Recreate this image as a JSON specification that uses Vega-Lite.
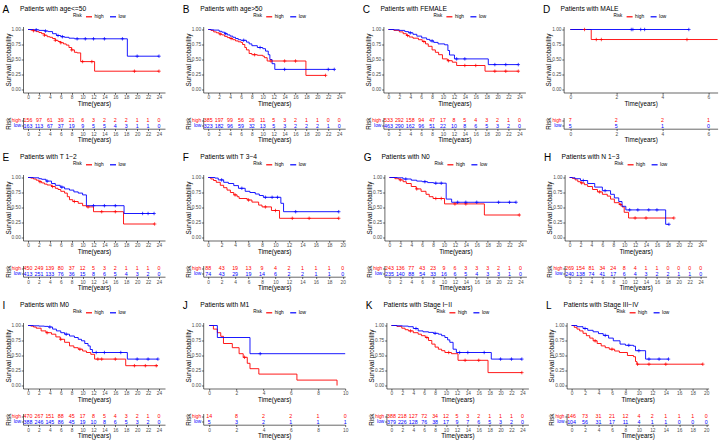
{
"$schema": "https://vega.github.io/schema/vega-lite/v6.json",
"padding": {"left": 2, "top": 4.5, "right": 0, "bottom": 0},
"background": "white",
"config": {
 "font": "Liberation Sans",
 "view": {"stroke": null},
 "axis": {"grid": false, "domainColor": "#000000", "domainWidth": 0.6, "tickColor": "#000000", "tickWidth": 0.6, "tickSize": 1.8, "labelFontSize": 4.8, "labelColor": "#4D4D4D", "labelPadding": 0.5, "labelFlush": false, "labelOverlap": false, "titleFontSize": 6.3, "titleFontWeight": "normal", "titleColor": "#000000", "titlePadding": 1, "labelFont": "Liberation Sans", "titleFont": "Liberation Sans"},
 "axisY": {"labelPadding": 0.8, "titlePadding": 0},
 "legend": {"labelFontSize": 4.8, "titleFontSize": 4.5, "titleFontWeight": "normal", "titleBaseline": "middle", "titleAnchor": "middle", "symbolType": "stroke", "symbolSize": 36, "symbolStrokeWidth": 1.2, "columnPadding": 3, "labelOffset": 1.5, "titlePadding": 3, "labelFont": "Liberation Sans", "titleFont": "Liberation Sans"},
 "title": {"font": "Liberation Sans", "fontWeight": "normal", "color": "#000000"},
 "text": {"font": "Liberation Sans"}
},
"datasets": {
 "pv": [{"p":"A","label":"p=0.003"},{"p":"B","label":"p=0.023"},{"p":"C","label":"p<0.001"},{"p":"D","label":"p=0.361"},{"p":"E","label":"p=0.003"},{"p":"F","label":"p=0.022"},{"p":"G","label":"p=0.002"},{"p":"H","label":"p=0.052"},{"p":"I","label":"p=0.003"},{"p":"J","label":"p=0.139"},{"p":"K","label":"p=0.003"},{"p":"L","label":"p=0.052"}],
 "km": [
  {"p":"A","r":"high","t":0,"s":1},{"p":"A","r":"high","t":0.5,"s":0.99},{"p":"A","r":"high","t":1,"s":0.98},{"p":"A","r":"high","t":1.5,"s":0.965},{"p":"A","r":"high","t":2,"s":0.95},{"p":"A","r":"high","t":2.5,"s":0.93},{"p":"A","r":"high","t":3,"s":0.905},{"p":"A","r":"high","t":3.5,"s":0.88},{"p":"A","r":"high","t":4,"s":0.87},{"p":"A","r":"high","t":4.5,"s":0.85},{"p":"A","r":"high","t":5,"s":0.82},{"p":"A","r":"high","t":5.5,"s":0.8},{"p":"A","r":"high","t":6,"s":0.78},{"p":"A","r":"high","t":6.5,"s":0.76},{"p":"A","r":"high","t":7,"s":0.74},{"p":"A","r":"high","t":7.5,"s":0.7},{"p":"A","r":"high","t":8,"s":0.66},{"p":"A","r":"high","t":8.5,"s":0.62},{"p":"A","r":"high","t":9,"s":0.61},{"p":"A","r":"high","t":9.65,"s":0.465},{"p":"A","r":"high","t":12.2,"s":0.305},{"p":"A","r":"high","t":24,"s":0.305},
  {"p":"A","r":"low","t":0,"s":1},{"p":"A","r":"low","t":1,"s":0.995},{"p":"A","r":"low","t":2,"s":0.985},{"p":"A","r":"low","t":3,"s":0.975},{"p":"A","r":"low","t":3.7,"s":0.965},{"p":"A","r":"low","t":4.5,"s":0.93},{"p":"A","r":"low","t":5.2,"s":0.9},{"p":"A","r":"low","t":6,"s":0.88},{"p":"A","r":"low","t":6.7,"s":0.87},{"p":"A","r":"low","t":7.5,"s":0.855},{"p":"A","r":"low","t":8.5,"s":0.845},{"p":"A","r":"low","t":18.2,"s":0.555},{"p":"A","r":"low","t":24,"s":0.555},
  {"p":"B","r":"high","t":0,"s":1},{"p":"B","r":"high","t":0.5,"s":0.985},{"p":"B","r":"high","t":1,"s":0.96},{"p":"B","r":"high","t":1.5,"s":0.945},{"p":"B","r":"high","t":2,"s":0.925},{"p":"B","r":"high","t":2.5,"s":0.91},{"p":"B","r":"high","t":3,"s":0.885},{"p":"B","r":"high","t":3.5,"s":0.865},{"p":"B","r":"high","t":4,"s":0.85},{"p":"B","r":"high","t":4.5,"s":0.83},{"p":"B","r":"high","t":5,"s":0.81},{"p":"B","r":"high","t":5.5,"s":0.795},{"p":"B","r":"high","t":6,"s":0.785},{"p":"B","r":"high","t":6.3,"s":0.75},{"p":"B","r":"high","t":6.7,"s":0.7},{"p":"B","r":"high","t":7,"s":0.66},{"p":"B","r":"high","t":7.5,"s":0.6},{"p":"B","r":"high","t":8,"s":0.58},{"p":"B","r":"high","t":9,"s":0.57},{"p":"B","r":"high","t":10,"s":0.555},{"p":"B","r":"high","t":10.3,"s":0.53},{"p":"B","r":"high","t":10.8,"s":0.475},{"p":"B","r":"high","t":17.9,"s":0.235},{"p":"B","r":"high","t":21.5,"s":0.235},
  {"p":"B","r":"low","t":0,"s":1},{"p":"B","r":"low","t":0.5,"s":0.995},{"p":"B","r":"low","t":1,"s":0.99},{"p":"B","r":"low","t":2,"s":0.97},{"p":"B","r":"low","t":2.5,"s":0.955},{"p":"B","r":"low","t":3,"s":0.93},{"p":"B","r":"low","t":3.5,"s":0.91},{"p":"B","r":"low","t":4,"s":0.89},{"p":"B","r":"low","t":4.5,"s":0.87},{"p":"B","r":"low","t":5,"s":0.85},{"p":"B","r":"low","t":5.5,"s":0.83},{"p":"B","r":"low","t":6,"s":0.82},{"p":"B","r":"low","t":7,"s":0.79},{"p":"B","r":"low","t":7.5,"s":0.76},{"p":"B","r":"low","t":8,"s":0.73},{"p":"B","r":"low","t":9,"s":0.7},{"p":"B","r":"low","t":10,"s":0.68},{"p":"B","r":"low","t":10.5,"s":0.64},{"p":"B","r":"low","t":11,"s":0.58},{"p":"B","r":"low","t":11.3,"s":0.5},{"p":"B","r":"low","t":11.7,"s":0.43},{"p":"B","r":"low","t":12.2,"s":0.335},{"p":"B","r":"low","t":23.1,"s":0.335},
  {"p":"C","r":"high","t":0,"s":1},{"p":"C","r":"high","t":1,"s":0.985},{"p":"C","r":"high","t":2,"s":0.96},{"p":"C","r":"high","t":2.7,"s":0.93},{"p":"C","r":"high","t":3.3,"s":0.9},{"p":"C","r":"high","t":3.8,"s":0.875},{"p":"C","r":"high","t":4.5,"s":0.855},{"p":"C","r":"high","t":5.5,"s":0.83},{"p":"C","r":"high","t":6.2,"s":0.8},{"p":"C","r":"high","t":6.8,"s":0.76},{"p":"C","r":"high","t":7.3,"s":0.72},{"p":"C","r":"high","t":8,"s":0.66},{"p":"C","r":"high","t":8.6,"s":0.62},{"p":"C","r":"high","t":9.2,"s":0.58},{"p":"C","r":"high","t":9.9,"s":0.51},{"p":"C","r":"high","t":10.8,"s":0.48},{"p":"C","r":"high","t":11.7,"s":0.455},{"p":"C","r":"high","t":12.5,"s":0.4},{"p":"C","r":"high","t":17.7,"s":0.305},{"p":"C","r":"high","t":23.8,"s":0.305},
  {"p":"C","r":"low","t":0,"s":1},{"p":"C","r":"low","t":1,"s":0.995},{"p":"C","r":"low","t":2,"s":0.985},{"p":"C","r":"low","t":3,"s":0.965},{"p":"C","r":"low","t":3.7,"s":0.945},{"p":"C","r":"low","t":4.5,"s":0.92},{"p":"C","r":"low","t":5.2,"s":0.89},{"p":"C","r":"low","t":6.1,"s":0.86},{"p":"C","r":"low","t":7,"s":0.835},{"p":"C","r":"low","t":7.6,"s":0.81},{"p":"C","r":"low","t":8.3,"s":0.785},{"p":"C","r":"low","t":9.1,"s":0.76},{"p":"C","r":"low","t":10.3,"s":0.745},{"p":"C","r":"low","t":10.9,"s":0.65},{"p":"C","r":"low","t":11.2,"s":0.575},{"p":"C","r":"low","t":12.1,"s":0.51},{"p":"C","r":"low","t":18.3,"s":0.415},{"p":"C","r":"low","t":23.8,"s":0.415},
  {"p":"D","r":"high","t":0,"s":1},{"p":"D","r":"high","t":0.91,"s":0.833},{"p":"D","r":"high","t":6.4,"s":0.833},
  {"p":"D","r":"low","t":0,"s":1},{"p":"D","r":"low","t":5.15,"s":1},
  {"p":"E","r":"high","t":0,"s":1},{"p":"E","r":"high","t":0.5,"s":0.99},{"p":"E","r":"high","t":1,"s":0.975},{"p":"E","r":"high","t":1.5,"s":0.955},{"p":"E","r":"high","t":2,"s":0.93},{"p":"E","r":"high","t":2.5,"s":0.91},{"p":"E","r":"high","t":3,"s":0.89},{"p":"E","r":"high","t":3.5,"s":0.875},{"p":"E","r":"high","t":4.3,"s":0.85},{"p":"E","r":"high","t":5,"s":0.82},{"p":"E","r":"high","t":5.5,"s":0.8},{"p":"E","r":"high","t":6,"s":0.77},{"p":"E","r":"high","t":6.7,"s":0.74},{"p":"E","r":"high","t":7.2,"s":0.68},{"p":"E","r":"high","t":7.6,"s":0.63},{"p":"E","r":"high","t":8.2,"s":0.6},{"p":"E","r":"high","t":9.2,"s":0.57},{"p":"E","r":"high","t":10,"s":0.53},{"p":"E","r":"high","t":10.7,"s":0.51},{"p":"E","r":"high","t":12,"s":0.43},{"p":"E","r":"high","t":17.5,"s":0.225},{"p":"E","r":"high","t":23.2,"s":0.225},
  {"p":"E","r":"low","t":0,"s":1},{"p":"E","r":"low","t":1,"s":0.995},{"p":"E","r":"low","t":2,"s":0.98},{"p":"E","r":"low","t":2.5,"s":0.97},{"p":"E","r":"low","t":3.3,"s":0.94},{"p":"E","r":"low","t":4.3,"s":0.9},{"p":"E","r":"low","t":5,"s":0.87},{"p":"E","r":"low","t":5.9,"s":0.84},{"p":"E","r":"low","t":6.7,"s":0.81},{"p":"E","r":"low","t":7.6,"s":0.79},{"p":"E","r":"low","t":8.4,"s":0.76},{"p":"E","r":"low","t":9.2,"s":0.74},{"p":"E","r":"low","t":10,"s":0.71},{"p":"E","r":"low","t":10.7,"s":0.53},{"p":"E","r":"low","t":17.6,"s":0.4},{"p":"E","r":"low","t":23.1,"s":0.4},
  {"p":"F","r":"high","t":0,"s":1},{"p":"F","r":"high","t":0.4,"s":0.975},{"p":"F","r":"high","t":0.8,"s":0.95},{"p":"F","r":"high","t":1.2,"s":0.92},{"p":"F","r":"high","t":1.8,"s":0.87},{"p":"F","r":"high","t":2.3,"s":0.83},{"p":"F","r":"high","t":2.8,"s":0.79},{"p":"F","r":"high","t":3.3,"s":0.75},{"p":"F","r":"high","t":3.8,"s":0.71},{"p":"F","r":"high","t":4.3,"s":0.68},{"p":"F","r":"high","t":4.6,"s":0.65},{"p":"F","r":"high","t":5.8,"s":0.625},{"p":"F","r":"high","t":6.5,"s":0.59},{"p":"F","r":"high","t":7.5,"s":0.54},{"p":"F","r":"high","t":8,"s":0.51},{"p":"F","r":"high","t":9.4,"s":0.45},{"p":"F","r":"high","t":10.6,"s":0.32},{"p":"F","r":"high","t":19.4,"s":0.32},
  {"p":"F","r":"low","t":0,"s":1},{"p":"F","r":"low","t":1,"s":0.99},{"p":"F","r":"low","t":1.5,"s":0.96},{"p":"F","r":"low","t":2.3,"s":0.92},{"p":"F","r":"low","t":3,"s":0.9},{"p":"F","r":"low","t":3.8,"s":0.865},{"p":"F","r":"low","t":4.5,"s":0.82},{"p":"F","r":"low","t":5.5,"s":0.77},{"p":"F","r":"low","t":6.2,"s":0.75},{"p":"F","r":"low","t":7,"s":0.725},{"p":"F","r":"low","t":7.6,"s":0.7},{"p":"F","r":"low","t":8.2,"s":0.67},{"p":"F","r":"low","t":10.8,"s":0.57},{"p":"F","r":"low","t":11.2,"s":0.43},{"p":"F","r":"low","t":19.4,"s":0.43},
  {"p":"G","r":"high","t":0,"s":1},{"p":"G","r":"high","t":1,"s":0.98},{"p":"G","r":"high","t":1.8,"s":0.96},{"p":"G","r":"high","t":2.5,"s":0.93},{"p":"G","r":"high","t":3.1,"s":0.9},{"p":"G","r":"high","t":4,"s":0.85},{"p":"G","r":"high","t":4.9,"s":0.81},{"p":"G","r":"high","t":5.8,"s":0.77},{"p":"G","r":"high","t":6.7,"s":0.72},{"p":"G","r":"high","t":7.3,"s":0.68},{"p":"G","r":"high","t":8,"s":0.65},{"p":"G","r":"high","t":10.1,"s":0.56},{"p":"G","r":"high","t":17.4,"s":0.375},{"p":"G","r":"high","t":23.8,"s":0.375},
  {"p":"G","r":"low","t":0,"s":1},{"p":"G","r":"low","t":1.5,"s":0.995},{"p":"G","r":"low","t":2.5,"s":0.975},{"p":"G","r":"low","t":4,"s":0.955},{"p":"G","r":"low","t":5,"s":0.94},{"p":"G","r":"low","t":6,"s":0.93},{"p":"G","r":"low","t":7,"s":0.915},{"p":"G","r":"low","t":8.1,"s":0.905},{"p":"G","r":"low","t":10.4,"s":0.64},{"p":"G","r":"low","t":11.4,"s":0.587},{"p":"G","r":"low","t":23.2,"s":0.587},
  {"p":"H","r":"high","t":0,"s":1},{"p":"H","r":"high","t":0.5,"s":0.985},{"p":"H","r":"high","t":1,"s":0.96},{"p":"H","r":"high","t":1.5,"s":0.93},{"p":"H","r":"high","t":2,"s":0.91},{"p":"H","r":"high","t":2.7,"s":0.88},{"p":"H","r":"high","t":3.3,"s":0.85},{"p":"H","r":"high","t":4.2,"s":0.8},{"p":"H","r":"high","t":5.1,"s":0.76},{"p":"H","r":"high","t":6,"s":0.72},{"p":"H","r":"high","t":6.9,"s":0.69},{"p":"H","r":"high","t":7.5,"s":0.64},{"p":"H","r":"high","t":8.2,"s":0.58},{"p":"H","r":"high","t":9.1,"s":0.55},{"p":"H","r":"high","t":9.6,"s":0.51},{"p":"H","r":"high","t":10,"s":0.42},{"p":"H","r":"high","t":10.8,"s":0.325},{"p":"H","r":"high","t":19.1,"s":0.325},
  {"p":"H","r":"low","t":0,"s":1},{"p":"H","r":"low","t":0.5,"s":0.995},{"p":"H","r":"low","t":1,"s":0.98},{"p":"H","r":"low","t":2,"s":0.95},{"p":"H","r":"low","t":3.3,"s":0.9},{"p":"H","r":"low","t":4.6,"s":0.84},{"p":"H","r":"low","t":6,"s":0.78},{"p":"H","r":"low","t":7.5,"s":0.72},{"p":"H","r":"low","t":8.2,"s":0.66},{"p":"H","r":"low","t":9,"s":0.6},{"p":"H","r":"low","t":9.6,"s":0.52},{"p":"H","r":"low","t":10.3,"s":0.46},{"p":"H","r":"low","t":17.6,"s":0.22},{"p":"H","r":"low","t":18.2,"s":0.22},
  {"p":"I","r":"high","t":0,"s":1},{"p":"I","r":"high","t":0.5,"s":0.99},{"p":"I","r":"high","t":1,"s":0.975},{"p":"I","r":"high","t":1.5,"s":0.955},{"p":"I","r":"high","t":2.4,"s":0.91},{"p":"I","r":"high","t":3.3,"s":0.88},{"p":"I","r":"high","t":4.3,"s":0.855},{"p":"I","r":"high","t":5.1,"s":0.81},{"p":"I","r":"high","t":5.9,"s":0.77},{"p":"I","r":"high","t":6.7,"s":0.72},{"p":"I","r":"high","t":7.6,"s":0.66},{"p":"I","r":"high","t":8.4,"s":0.63},{"p":"I","r":"high","t":9.2,"s":0.605},{"p":"I","r":"high","t":10,"s":0.575},{"p":"I","r":"high","t":10.7,"s":0.55},{"p":"I","r":"high","t":11.5,"s":0.52},{"p":"I","r":"high","t":12.2,"s":0.44},{"p":"I","r":"high","t":17.9,"s":0.33},{"p":"I","r":"high","t":23.8,"s":0.33},
  {"p":"I","r":"low","t":0,"s":1},{"p":"I","r":"low","t":1,"s":0.995},{"p":"I","r":"low","t":2,"s":0.99},{"p":"I","r":"low","t":3,"s":0.985},{"p":"I","r":"low","t":3.7,"s":0.975},{"p":"I","r":"low","t":4.5,"s":0.94},{"p":"I","r":"low","t":5.2,"s":0.91},{"p":"I","r":"low","t":6,"s":0.88},{"p":"I","r":"low","t":6.7,"s":0.855},{"p":"I","r":"low","t":7.6,"s":0.825},{"p":"I","r":"low","t":8.5,"s":0.8},{"p":"I","r":"low","t":9.2,"s":0.77},{"p":"I","r":"low","t":9.8,"s":0.745},{"p":"I","r":"low","t":10.4,"s":0.7},{"p":"I","r":"low","t":11,"s":0.66},{"p":"I","r":"low","t":11.4,"s":0.6},{"p":"I","r":"low","t":11.8,"s":0.55},{"p":"I","r":"low","t":18.2,"s":0.44},{"p":"I","r":"low","t":23.8,"s":0.44},
  {"p":"J","r":"high","t":0,"s":1},{"p":"J","r":"high","t":0.31,"s":0.94},{"p":"J","r":"high","t":0.6,"s":0.88},{"p":"J","r":"high","t":0.85,"s":0.82},{"p":"J","r":"high","t":1.05,"s":0.7},{"p":"J","r":"high","t":1.7,"s":0.63},{"p":"J","r":"high","t":2.2,"s":0.53},{"p":"J","r":"high","t":2.5,"s":0.47},{"p":"J","r":"high","t":2.8,"s":0.37},{"p":"J","r":"high","t":3,"s":0.28},{"p":"J","r":"high","t":3.65,"s":0.19},{"p":"J","r":"high","t":6.45,"s":0.09},{"p":"J","r":"high","t":9.4,"s":0},
  {"p":"J","r":"low","t":0,"s":1},{"p":"J","r":"low","t":0.6,"s":0.8},{"p":"J","r":"low","t":3,"s":0.53},{"p":"J","r":"low","t":10,"s":0.53},
  {"p":"K","r":"high","t":0,"s":1},{"p":"K","r":"high","t":1,"s":0.985},{"p":"K","r":"high","t":1.9,"s":0.955},{"p":"K","r":"high","t":2.5,"s":0.93},{"p":"K","r":"high","t":3.1,"s":0.91},{"p":"K","r":"high","t":4,"s":0.88},{"p":"K","r":"high","t":4.9,"s":0.855},{"p":"K","r":"high","t":5.5,"s":0.83},{"p":"K","r":"high","t":6.2,"s":0.8},{"p":"K","r":"high","t":6.8,"s":0.75},{"p":"K","r":"high","t":7.4,"s":0.69},{"p":"K","r":"high","t":8,"s":0.64},{"p":"K","r":"high","t":8.6,"s":0.605},{"p":"K","r":"high","t":9.2,"s":0.58},{"p":"K","r":"high","t":9.8,"s":0.55},{"p":"K","r":"high","t":11,"s":0.53},{"p":"K","r":"high","t":12.2,"s":0.42},{"p":"K","r":"high","t":17.7,"s":0.215},{"p":"K","r":"high","t":23.9,"s":0.215},
  {"p":"K","r":"low","t":0,"s":1},{"p":"K","r":"low","t":1,"s":0.995},{"p":"K","r":"low","t":2,"s":0.99},{"p":"K","r":"low","t":3.1,"s":0.98},{"p":"K","r":"low","t":4,"s":0.95},{"p":"K","r":"low","t":4.9,"s":0.91},{"p":"K","r":"low","t":5.8,"s":0.895},{"p":"K","r":"low","t":6.8,"s":0.885},{"p":"K","r":"low","t":7.7,"s":0.87},{"p":"K","r":"low","t":8.6,"s":0.855},{"p":"K","r":"low","t":9.2,"s":0.83},{"p":"K","r":"low","t":9.8,"s":0.8},{"p":"K","r":"low","t":10.3,"s":0.76},{"p":"K","r":"low","t":10.7,"s":0.72},{"p":"K","r":"low","t":11.3,"s":0.605},{"p":"K","r":"low","t":11.9,"s":0.55},{"p":"K","r":"low","t":18.3,"s":0.44},{"p":"K","r":"low","t":23.9,"s":0.44},
  {"p":"L","r":"high","t":0,"s":1},{"p":"L","r":"high","t":0.4,"s":0.97},{"p":"L","r":"high","t":0.8,"s":0.94},{"p":"L","r":"high","t":1.2,"s":0.91},{"p":"L","r":"high","t":1.7,"s":0.87},{"p":"L","r":"high","t":2.2,"s":0.83},{"p":"L","r":"high","t":2.7,"s":0.79},{"p":"L","r":"high","t":3.2,"s":0.745},{"p":"L","r":"high","t":3.8,"s":0.7},{"p":"L","r":"high","t":4.4,"s":0.66},{"p":"L","r":"high","t":5,"s":0.63},{"p":"L","r":"high","t":5.6,"s":0.605},{"p":"L","r":"high","t":6.4,"s":0.575},{"p":"L","r":"high","t":7.1,"s":0.55},{"p":"L","r":"high","t":8.3,"s":0.5},{"p":"L","r":"high","t":9.2,"s":0.48},{"p":"L","r":"high","t":9.5,"s":0.4},{"p":"L","r":"high","t":9.7,"s":0.355},{"p":"L","r":"high","t":19.5,"s":0.355},
  {"p":"L","r":"low","t":0,"s":1},{"p":"L","r":"low","t":0.8,"s":0.98},{"p":"L","r":"low","t":1.7,"s":0.95},{"p":"L","r":"low","t":2.4,"s":0.92},{"p":"L","r":"low","t":3.2,"s":0.895},{"p":"L","r":"low","t":4,"s":0.865},{"p":"L","r":"low","t":4.7,"s":0.835},{"p":"L","r":"low","t":5.5,"s":0.79},{"p":"L","r":"low","t":6.2,"s":0.745},{"p":"L","r":"low","t":7.2,"s":0.69},{"p":"L","r":"low","t":8,"s":0.67},{"p":"L","r":"low","t":9.2,"s":0.655},{"p":"L","r":"low","t":9.5,"s":0.58},{"p":"L","r":"low","t":11,"s":0.44},{"p":"L","r":"low","t":14.4,"s":0.44}
 ],
 "cen": [
  {"p":"A","r":"high","t":1,"s":0.98},{"p":"A","r":"high","t":3,"s":0.905},{"p":"A","r":"high","t":5,"s":0.82},{"p":"A","r":"high","t":6,"s":0.78},{"p":"A","r":"high","t":8,"s":0.66},{"p":"A","r":"high","t":10,"s":0.465},{"p":"A","r":"high","t":11.7,"s":0.465},{"p":"A","r":"high","t":19.5,"s":0.305},{"p":"A","r":"high","t":24,"s":0.305},
  {"p":"A","r":"low","t":1.5,"s":0.995},{"p":"A","r":"low","t":3.2,"s":0.975},{"p":"A","r":"low","t":5.5,"s":0.9},{"p":"A","r":"low","t":6.3,"s":0.88},{"p":"A","r":"low","t":9,"s":0.845},{"p":"A","r":"low","t":10.5,"s":0.845},{"p":"A","r":"low","t":12,"s":0.845},{"p":"A","r":"low","t":14,"s":0.845},{"p":"A","r":"low","t":17.3,"s":0.845},{"p":"A","r":"low","t":20,"s":0.555},{"p":"A","r":"low","t":24,"s":0.555},
  {"p":"B","r":"high","t":2.2,"s":0.925},{"p":"B","r":"high","t":4.2,"s":0.85},{"p":"B","r":"high","t":8.5,"s":0.58},{"p":"B","r":"high","t":11.5,"s":0.475},{"p":"B","r":"high","t":14,"s":0.475},{"p":"B","r":"high","t":16,"s":0.475},{"p":"B","r":"high","t":21.5,"s":0.235},
  {"p":"B","r":"low","t":3.2,"s":0.93},{"p":"B","r":"low","t":6.5,"s":0.82},{"p":"B","r":"low","t":9.5,"s":0.7},{"p":"B","r":"low","t":14,"s":0.335},{"p":"B","r":"low","t":22,"s":0.335},{"p":"B","r":"low","t":23.1,"s":0.335},
  {"p":"C","r":"high","t":3.5,"s":0.9},{"p":"C","r":"high","t":6.5,"s":0.8},{"p":"C","r":"high","t":11,"s":0.48},{"p":"C","r":"high","t":14,"s":0.4},{"p":"C","r":"high","t":16,"s":0.4},{"p":"C","r":"high","t":19.5,"s":0.305},{"p":"C","r":"high","t":21.5,"s":0.305},{"p":"C","r":"high","t":23.8,"s":0.305},
  {"p":"C","r":"low","t":4,"s":0.945},{"p":"C","r":"low","t":8,"s":0.81},{"p":"C","r":"low","t":12.5,"s":0.51},{"p":"C","r":"low","t":14,"s":0.51},{"p":"C","r":"low","t":19.5,"s":0.415},{"p":"C","r":"low","t":21.5,"s":0.415},{"p":"C","r":"low","t":23.8,"s":0.415},
  {"p":"D","r":"high","t":0.62,"s":1},{"p":"D","r":"high","t":1.13,"s":0.833},{"p":"D","r":"high","t":1.35,"s":0.833},{"p":"D","r":"high","t":5.07,"s":0.833},
  {"p":"D","r":"low","t":2.65,"s":1},{"p":"D","r":"low","t":2.72,"s":1},{"p":"D","r":"low","t":3.06,"s":1},{"p":"D","r":"low","t":3.23,"s":1},{"p":"D","r":"low","t":5.15,"s":1},
  {"p":"E","r":"high","t":2.2,"s":0.93},{"p":"E","r":"high","t":4.5,"s":0.85},{"p":"E","r":"high","t":8.5,"s":0.6},{"p":"E","r":"high","t":11,"s":0.51},{"p":"E","r":"high","t":13.5,"s":0.43},{"p":"E","r":"high","t":16,"s":0.43},{"p":"E","r":"high","t":23.2,"s":0.225},
  {"p":"E","r":"low","t":3.5,"s":0.94},{"p":"E","r":"low","t":6.2,"s":0.84},{"p":"E","r":"low","t":12,"s":0.53},{"p":"E","r":"low","t":14,"s":0.53},{"p":"E","r":"low","t":16,"s":0.53},{"p":"E","r":"low","t":21,"s":0.4},{"p":"E","r":"low","t":22,"s":0.4},{"p":"E","r":"low","t":23.1,"s":0.4},
  {"p":"F","r":"high","t":4,"s":0.71},{"p":"F","r":"high","t":6,"s":0.625},{"p":"F","r":"high","t":8.5,"s":0.51},{"p":"F","r":"high","t":10,"s":0.45},{"p":"F","r":"high","t":12.5,"s":0.32},{"p":"F","r":"high","t":15,"s":0.32},{"p":"F","r":"high","t":19.4,"s":0.32},
  {"p":"F","r":"low","t":2,"s":0.96},{"p":"F","r":"low","t":5,"s":0.82},{"p":"F","r":"low","t":8.5,"s":0.67},{"p":"F","r":"low","t":9.5,"s":0.67},{"p":"F","r":"low","t":10.3,"s":0.67},{"p":"F","r":"low","t":13,"s":0.43},{"p":"F","r":"low","t":19.4,"s":0.43},
  {"p":"G","r":"high","t":2,"s":0.96},{"p":"G","r":"high","t":5,"s":0.81},{"p":"G","r":"high","t":8.5,"s":0.65},{"p":"G","r":"high","t":9.5,"s":0.65},{"p":"G","r":"high","t":12,"s":0.56},{"p":"G","r":"high","t":14,"s":0.56},{"p":"G","r":"high","t":23.8,"s":0.375},
  {"p":"G","r":"low","t":3,"s":0.975},{"p":"G","r":"low","t":6.5,"s":0.93},{"p":"G","r":"low","t":8.5,"s":0.905},{"p":"G","r":"low","t":9.5,"s":0.905},{"p":"G","r":"low","t":12.5,"s":0.587},{"p":"G","r":"low","t":14,"s":0.587},{"p":"G","r":"low","t":16,"s":0.587},{"p":"G","r":"low","t":20,"s":0.587},{"p":"G","r":"low","t":22,"s":0.587},{"p":"G","r":"low","t":23.2,"s":0.587},
  {"p":"H","r":"high","t":2.2,"s":0.91},{"p":"H","r":"high","t":5.5,"s":0.76},{"p":"H","r":"high","t":9.3,"s":0.55},{"p":"H","r":"high","t":12,"s":0.325},{"p":"H","r":"high","t":14,"s":0.325},{"p":"H","r":"high","t":19.1,"s":0.325},
  {"p":"H","r":"low","t":2.5,"s":0.95},{"p":"H","r":"low","t":6.5,"s":0.78},{"p":"H","r":"low","t":11,"s":0.46},{"p":"H","r":"low","t":12.5,"s":0.46},{"p":"H","r":"low","t":14.5,"s":0.46},{"p":"H","r":"low","t":16,"s":0.46},{"p":"H","r":"low","t":18.2,"s":0.22},
  {"p":"I","r":"high","t":3.5,"s":0.88},{"p":"I","r":"high","t":6,"s":0.77},{"p":"I","r":"high","t":9.5,"s":0.605},{"p":"I","r":"high","t":12.8,"s":0.44},{"p":"I","r":"high","t":13.5,"s":0.44},{"p":"I","r":"high","t":16,"s":0.44},{"p":"I","r":"high","t":19.5,"s":0.33},{"p":"I","r":"high","t":21.5,"s":0.33},{"p":"I","r":"high","t":23.5,"s":0.33},
  {"p":"I","r":"low","t":4,"s":0.975},{"p":"I","r":"low","t":7,"s":0.855},{"p":"I","r":"low","t":12.5,"s":0.55},{"p":"I","r":"low","t":14,"s":0.55},{"p":"I","r":"low","t":17,"s":0.55},{"p":"I","r":"low","t":20,"s":0.44},{"p":"I","r":"low","t":22,"s":0.44},{"p":"I","r":"low","t":23.8,"s":0.44},
  {"p":"J","r":"high","t":2.6,"s":0.47},
  {"p":"J","r":"low","t":3.75,"s":0.53},
  {"p":"K","r":"high","t":3.5,"s":0.91},{"p":"K","r":"high","t":6.5,"s":0.8},{"p":"K","r":"high","t":10.5,"s":0.55},{"p":"K","r":"high","t":13.5,"s":0.42},{"p":"K","r":"high","t":16,"s":0.42},{"p":"K","r":"high","t":23.9,"s":0.215},
  {"p":"K","r":"low","t":4.5,"s":0.95},{"p":"K","r":"low","t":8,"s":0.87},{"p":"K","r":"low","t":12.5,"s":0.55},{"p":"K","r":"low","t":14,"s":0.55},{"p":"K","r":"low","t":17,"s":0.55},{"p":"K","r":"low","t":20,"s":0.44},{"p":"K","r":"low","t":22,"s":0.44},{"p":"K","r":"low","t":23.9,"s":0.44},
  {"p":"L","r":"high","t":3.5,"s":0.745},{"p":"L","r":"high","t":6,"s":0.605},{"p":"L","r":"high","t":9.8,"s":0.355},{"p":"L","r":"high","t":11.5,"s":0.355},{"p":"L","r":"high","t":14,"s":0.355},{"p":"L","r":"high","t":19.5,"s":0.355},
  {"p":"L","r":"low","t":2,"s":0.95},{"p":"L","r":"low","t":5,"s":0.835},{"p":"L","r":"low","t":8.5,"s":0.67},{"p":"L","r":"low","t":10,"s":0.58},{"p":"L","r":"low","t":11.5,"s":0.44},{"p":"L","r":"low","t":13,"s":0.44},{"p":"L","r":"low","t":14.4,"s":0.44}
 ],
 "risk": [
  {"p":"A","r":"high","t":0,"n":156},{"p":"A","r":"high","t":2,"n":97},{"p":"A","r":"high","t":4,"n":61},{"p":"A","r":"high","t":6,"n":39},{"p":"A","r":"high","t":8,"n":21},{"p":"A","r":"high","t":10,"n":6},{"p":"A","r":"high","t":12,"n":3},{"p":"A","r":"high","t":14,"n":2},{"p":"A","r":"high","t":16,"n":2},{"p":"A","r":"high","t":18,"n":2},{"p":"A","r":"high","t":20,"n":1},{"p":"A","r":"high","t":22,"n":1},{"p":"A","r":"high","t":24,"n":0},
  {"p":"A","r":"low","t":0,"n":163},{"p":"A","r":"low","t":2,"n":113},{"p":"A","r":"low","t":4,"n":67},{"p":"A","r":"low","t":6,"n":37},{"p":"A","r":"low","t":8,"n":19},{"p":"A","r":"low","t":10,"n":9},{"p":"A","r":"low","t":12,"n":5},{"p":"A","r":"low","t":14,"n":5},{"p":"A","r":"low","t":16,"n":4},{"p":"A","r":"low","t":18,"n":3},{"p":"A","r":"low","t":20,"n":1},{"p":"A","r":"low","t":22,"n":1},{"p":"A","r":"low","t":24,"n":0},
  {"p":"B","r":"high","t":0,"n":385},{"p":"B","r":"high","t":2,"n":197},{"p":"B","r":"high","t":4,"n":99},{"p":"B","r":"high","t":6,"n":56},{"p":"B","r":"high","t":8,"n":26},{"p":"B","r":"high","t":10,"n":11},{"p":"B","r":"high","t":12,"n":5},{"p":"B","r":"high","t":14,"n":3},{"p":"B","r":"high","t":16,"n":2},{"p":"B","r":"high","t":18,"n":1},{"p":"B","r":"high","t":20,"n":1},{"p":"B","r":"high","t":22,"n":0},{"p":"B","r":"high","t":24,"n":0},
  {"p":"B","r":"low","t":0,"n":323},{"p":"B","r":"low","t":2,"n":182},{"p":"B","r":"low","t":4,"n":96},{"p":"B","r":"low","t":6,"n":59},{"p":"B","r":"low","t":8,"n":32},{"p":"B","r":"low","t":10,"n":13},{"p":"B","r":"low","t":12,"n":5},{"p":"B","r":"low","t":14,"n":3},{"p":"B","r":"low","t":16,"n":2},{"p":"B","r":"low","t":18,"n":2},{"p":"B","r":"low","t":20,"n":2},{"p":"B","r":"low","t":22,"n":1},{"p":"B","r":"low","t":24,"n":0},
  {"p":"C","r":"high","t":0,"n":533},{"p":"C","r":"high","t":2,"n":292},{"p":"C","r":"high","t":4,"n":158},{"p":"C","r":"high","t":6,"n":94},{"p":"C","r":"high","t":8,"n":47},{"p":"C","r":"high","t":10,"n":17},{"p":"C","r":"high","t":12,"n":8},{"p":"C","r":"high","t":14,"n":5},{"p":"C","r":"high","t":16,"n":4},{"p":"C","r":"high","t":18,"n":3},{"p":"C","r":"high","t":20,"n":2},{"p":"C","r":"high","t":22,"n":1},{"p":"C","r":"high","t":24,"n":0},
  {"p":"C","r":"low","t":0,"n":463},{"p":"C","r":"low","t":2,"n":290},{"p":"C","r":"low","t":4,"n":162},{"p":"C","r":"low","t":6,"n":96},{"p":"C","r":"low","t":8,"n":51},{"p":"C","r":"low","t":10,"n":22},{"p":"C","r":"low","t":12,"n":10},{"p":"C","r":"low","t":14,"n":8},{"p":"C","r":"low","t":16,"n":6},{"p":"C","r":"low","t":18,"n":5},{"p":"C","r":"low","t":20,"n":3},{"p":"C","r":"low","t":22,"n":2},{"p":"C","r":"low","t":24,"n":0},
  {"p":"D","r":"high","t":0,"n":7},{"p":"D","r":"high","t":2,"n":2},{"p":"D","r":"high","t":4,"n":2},{"p":"D","r":"high","t":6,"n":1},
  {"p":"D","r":"low","t":0,"n":5},{"p":"D","r":"low","t":2,"n":5},{"p":"D","r":"low","t":4,"n":1},{"p":"D","r":"low","t":6,"n":0},
  {"p":"E","r":"high","t":0,"n":450},{"p":"E","r":"high","t":2,"n":249},{"p":"E","r":"high","t":4,"n":139},{"p":"E","r":"high","t":6,"n":80},{"p":"E","r":"high","t":8,"n":37},{"p":"E","r":"high","t":10,"n":12},{"p":"E","r":"high","t":12,"n":5},{"p":"E","r":"high","t":14,"n":3},{"p":"E","r":"high","t":16,"n":2},{"p":"E","r":"high","t":18,"n":1},{"p":"E","r":"high","t":20,"n":1},{"p":"E","r":"high","t":22,"n":1},{"p":"E","r":"high","t":24,"n":0},
  {"p":"E","r":"low","t":0,"n":413},{"p":"E","r":"low","t":2,"n":251},{"p":"E","r":"low","t":4,"n":133},{"p":"E","r":"low","t":6,"n":76},{"p":"E","r":"low","t":8,"n":36},{"p":"E","r":"low","t":10,"n":15},{"p":"E","r":"low","t":12,"n":8},{"p":"E","r":"low","t":14,"n":6},{"p":"E","r":"low","t":16,"n":5},{"p":"E","r":"low","t":18,"n":4},{"p":"E","r":"low","t":20,"n":3},{"p":"E","r":"low","t":22,"n":2},{"p":"E","r":"low","t":24,"n":0},
  {"p":"F","r":"high","t":0,"n":88},{"p":"F","r":"high","t":2,"n":43},{"p":"F","r":"high","t":4,"n":19},{"p":"F","r":"high","t":6,"n":13},{"p":"F","r":"high","t":8,"n":9},{"p":"F","r":"high","t":10,"n":4},{"p":"F","r":"high","t":12,"n":2},{"p":"F","r":"high","t":14,"n":1},{"p":"F","r":"high","t":16,"n":1},{"p":"F","r":"high","t":18,"n":1},{"p":"F","r":"high","t":20,"n":0},
  {"p":"F","r":"low","t":0,"n":74},{"p":"F","r":"low","t":2,"n":43},{"p":"F","r":"low","t":4,"n":29},{"p":"F","r":"low","t":6,"n":19},{"p":"F","r":"low","t":8,"n":14},{"p":"F","r":"low","t":10,"n":6},{"p":"F","r":"low","t":12,"n":2},{"p":"F","r":"low","t":14,"n":2},{"p":"F","r":"low","t":16,"n":1},{"p":"F","r":"low","t":18,"n":1},{"p":"F","r":"low","t":20,"n":0},
  {"p":"G","r":"high","t":0,"n":243},{"p":"G","r":"high","t":2,"n":136},{"p":"G","r":"high","t":4,"n":77},{"p":"G","r":"high","t":6,"n":43},{"p":"G","r":"high","t":8,"n":23},{"p":"G","r":"high","t":10,"n":9},{"p":"G","r":"high","t":12,"n":6},{"p":"G","r":"high","t":14,"n":3},{"p":"G","r":"high","t":16,"n":3},{"p":"G","r":"high","t":18,"n":3},{"p":"G","r":"high","t":20,"n":2},{"p":"G","r":"high","t":22,"n":1},{"p":"G","r":"high","t":24,"n":0},
  {"p":"G","r":"low","t":0,"n":235},{"p":"G","r":"low","t":2,"n":140},{"p":"G","r":"low","t":4,"n":88},{"p":"G","r":"low","t":6,"n":54},{"p":"G","r":"low","t":8,"n":33},{"p":"G","r":"low","t":10,"n":16},{"p":"G","r":"low","t":12,"n":6},{"p":"G","r":"low","t":14,"n":5},{"p":"G","r":"low","t":16,"n":4},{"p":"G","r":"low","t":18,"n":3},{"p":"G","r":"low","t":20,"n":3},{"p":"G","r":"low","t":22,"n":1},{"p":"G","r":"low","t":24,"n":0},
  {"p":"H","r":"high","t":0,"n":269},{"p":"H","r":"high","t":2,"n":154},{"p":"H","r":"high","t":4,"n":81},{"p":"H","r":"high","t":6,"n":34},{"p":"H","r":"high","t":8,"n":24},{"p":"H","r":"high","t":10,"n":8},{"p":"H","r":"high","t":12,"n":4},{"p":"H","r":"high","t":14,"n":1},{"p":"H","r":"high","t":16,"n":1},{"p":"H","r":"high","t":18,"n":0},{"p":"H","r":"high","t":20,"n":0},{"p":"H","r":"high","t":22,"n":0},{"p":"H","r":"high","t":24,"n":0},
  {"p":"H","r":"low","t":0,"n":240},{"p":"H","r":"low","t":2,"n":138},{"p":"H","r":"low","t":4,"n":74},{"p":"H","r":"low","t":6,"n":41},{"p":"H","r":"low","t":8,"n":17},{"p":"H","r":"low","t":10,"n":6},{"p":"H","r":"low","t":12,"n":4},{"p":"H","r":"low","t":14,"n":3},{"p":"H","r":"low","t":16,"n":2},{"p":"H","r":"low","t":18,"n":2},{"p":"H","r":"low","t":20,"n":1},{"p":"H","r":"low","t":22,"n":1},{"p":"H","r":"low","t":24,"n":0},
  {"p":"I","r":"high","t":0,"n":470},{"p":"I","r":"high","t":2,"n":267},{"p":"I","r":"high","t":4,"n":151},{"p":"I","r":"high","t":6,"n":88},{"p":"I","r":"high","t":8,"n":45},{"p":"I","r":"high","t":10,"n":17},{"p":"I","r":"high","t":12,"n":8},{"p":"I","r":"high","t":14,"n":5},{"p":"I","r":"high","t":16,"n":4},{"p":"I","r":"high","t":18,"n":3},{"p":"I","r":"high","t":20,"n":2},{"p":"I","r":"high","t":22,"n":1},{"p":"I","r":"high","t":24,"n":0},
  {"p":"I","r":"low","t":0,"n":388},{"p":"I","r":"low","t":2,"n":246},{"p":"I","r":"low","t":4,"n":145},{"p":"I","r":"low","t":6,"n":86},{"p":"I","r":"low","t":8,"n":45},{"p":"I","r":"low","t":10,"n":19},{"p":"I","r":"low","t":12,"n":10},{"p":"I","r":"low","t":14,"n":8},{"p":"I","r":"low","t":16,"n":6},{"p":"I","r":"low","t":18,"n":5},{"p":"I","r":"low","t":20,"n":3},{"p":"I","r":"low","t":22,"n":2},{"p":"I","r":"low","t":24,"n":0},
  {"p":"J","r":"high","t":0,"n":14},{"p":"J","r":"high","t":2,"n":8},{"p":"J","r":"high","t":4,"n":2},{"p":"J","r":"high","t":6,"n":2},{"p":"J","r":"high","t":8,"n":1},{"p":"J","r":"high","t":10,"n":0},
  {"p":"J","r":"low","t":0,"n":5},{"p":"J","r":"low","t":2,"n":3},{"p":"J","r":"low","t":4,"n":2},{"p":"J","r":"low","t":6,"n":1},{"p":"J","r":"low","t":8,"n":1},{"p":"J","r":"low","t":10,"n":1},
  {"p":"K","r":"high","t":0,"n":388},{"p":"K","r":"high","t":2,"n":218},{"p":"K","r":"high","t":4,"n":127},{"p":"K","r":"high","t":6,"n":72},{"p":"K","r":"high","t":8,"n":34},{"p":"K","r":"high","t":10,"n":12},{"p":"K","r":"high","t":12,"n":5},{"p":"K","r":"high","t":14,"n":3},{"p":"K","r":"high","t":16,"n":2},{"p":"K","r":"high","t":18,"n":1},{"p":"K","r":"high","t":20,"n":1},{"p":"K","r":"high","t":22,"n":1},{"p":"K","r":"high","t":24,"n":0},
  {"p":"K","r":"low","t":0,"n":379},{"p":"K","r":"low","t":2,"n":226},{"p":"K","r":"low","t":4,"n":128},{"p":"K","r":"low","t":6,"n":76},{"p":"K","r":"low","t":8,"n":38},{"p":"K","r":"low","t":10,"n":17},{"p":"K","r":"low","t":12,"n":9},{"p":"K","r":"low","t":14,"n":7},{"p":"K","r":"low","t":16,"n":6},{"p":"K","r":"low","t":18,"n":5},{"p":"K","r":"low","t":20,"n":3},{"p":"K","r":"low","t":22,"n":2},{"p":"K","r":"low","t":24,"n":0},
  {"p":"L","r":"high","t":0,"n":146},{"p":"L","r":"high","t":2,"n":73},{"p":"L","r":"high","t":4,"n":31},{"p":"L","r":"high","t":6,"n":21},{"p":"L","r":"high","t":8,"n":12},{"p":"L","r":"high","t":10,"n":4},{"p":"L","r":"high","t":12,"n":2},{"p":"L","r":"high","t":14,"n":1},{"p":"L","r":"high","t":16,"n":1},{"p":"L","r":"high","t":18,"n":1},{"p":"L","r":"high","t":20,"n":0},
  {"p":"L","r":"low","t":0,"n":104},{"p":"L","r":"low","t":2,"n":56},{"p":"L","r":"low","t":4,"n":31},{"p":"L","r":"low","t":6,"n":17},{"p":"L","r":"low","t":8,"n":11},{"p":"L","r":"low","t":10,"n":4},{"p":"L","r":"low","t":12,"n":1},{"p":"L","r":"low","t":14,"n":1},{"p":"L","r":"low","t":16,"n":0},{"p":"L","r":"low","t":18,"n":0},{"p":"L","r":"low","t":20,"n":0}
 ]
},
"spacing": 9,
"resolve": {"scale": {"color": "independent"}},
"vconcat": [
 {"spacing": 17.2, "align": "none", "resolve": {"scale": {"color": "independent"}}, "hconcat": [
  {"title":{"text":"A","anchor":"start","frame":"bounds","fontSize":10,"baseline":"bottom","offset":-19.5,"dx":-2.6},"spacing":9,"resolve":{"scale":{"color":"independent"}},"vconcat":[
   {"title":{"text":"Patients with age<=50","anchor":"start","frame":"group","fontSize":6.7,"baseline":"bottom","offset":-5.7,"dx":-3},"width":142,"height":66,
    "encoding":{"x":{"field":"t","type":"quantitative","scale":{"domain":[-0.92,25.1],"nice":false,"zero":false},"axis":{"values":[0,2,4,6,8,10,12,14,16,18,20,22,24],"labelOverlap":false,"title":"Time(years)"}},"y":{"field":"s","type":"quantitative","scale":{"domain":[-0.05,1.05],"nice":false,"zero":false},"axis":{"values":[0,0.25,0.5,0.75,1],"labelOverlap":false,"format":".2f","title":"Survival probability"}},"color":{"field":"r","type":"nominal","scale":{"domain":["high","low"],"range":["#FF0000","#0000FF"]},"legend":{"orient":"none","legendX":50,"legendY":-14,"direction":"horizontal","title":"Risk","titleOrient":"left"}}},
    "layer":[
    {"data":{"name":"km"},"transform":[{"filter":"datum.p==='A'"}],"mark":{"type":"line","interpolate":"step-after","strokeWidth":0.9}},
    {"data":{"name":"cen"},"transform":[{"filter":"datum.p==='A'"}],"mark":{"type":"point","shape":"M-1,0L1,0M0,-1L0,1","filled":false,"size":12,"strokeWidth":0.7,"opacity":1}},
    {"data":{"name":"pv"},"transform":[{"filter":"datum.p==='A'"}],"mark":{"type":"text","align":"left","baseline":"middle","fontSize":7},"encoding":{"x":{"datum":0.55,"type":"quantitative","scale":{"domain":[-0.92,25.1],"nice":false,"zero":false},"axis":{"values":[0,2,4,6,8,10,12,14,16,18,20,22,24],"labelOverlap":false,"title":"Time(years)"}},"y":{"datum":0.19,"type":"quantitative","scale":{"domain":[-0.05,1.05],"nice":false,"zero":false},"axis":{"values":[0,0.25,0.5,0.75,1],"labelOverlap":false,"format":".2f","title":"Survival probability"}},"color":{"value":"#000000"},"text":{"field":"label"}}}]},
   {"width":142,"height":11.2,"data":{"name":"risk"},"transform":[{"filter":"datum.p==='A'"}],"mark":{"type":"text","fontSize":5.3,"baseline":"middle"},"encoding":{"x":{"field":"t","type":"quantitative","scale":{"domain":[-0.92,25.1],"nice":false,"zero":false},"axis":{"values":[0,2,4,6,8,10,12,14,16,18,20,22,24],"labelOverlap":false,"title":"Time(years)"}},"y":{"field":"r","type":"nominal","scale":{"domain":["high","low"]},"axis":{"title":"Risk","labelOverlap":false,"labelColor":{"condition":{"test":"datum.value==='high'","value":"#FF0000"},"value":"#0000FF"}}},"text":{"field":"n"},"color":{"field":"r","type":"nominal","scale":{"domain":["high","low"],"range":["#FF0000","#0000FF"]},"legend":null}}}]},
  {"title":{"text":"B","anchor":"start","frame":"bounds","fontSize":10,"baseline":"bottom","offset":-19.5,"dx":-2.6},"spacing":9,"resolve":{"scale":{"color":"independent"}},"vconcat":[
   {"title":{"text":"Patients with age>50","anchor":"start","frame":"group","fontSize":6.7,"baseline":"bottom","offset":-5.7,"dx":-3},"width":142,"height":66,
    "encoding":{"x":{"field":"t","type":"quantitative","scale":{"domain":[-0.92,25.1],"nice":false,"zero":false},"axis":{"values":[0,2,4,6,8,10,12,14,16,18,20,22,24],"labelOverlap":false,"title":"Time(years)"}},"y":{"field":"s","type":"quantitative","scale":{"domain":[-0.05,1.05],"nice":false,"zero":false},"axis":{"values":[0,0.25,0.5,0.75,1],"labelOverlap":false,"format":".2f","title":"Survival probability"}},"color":{"field":"r","type":"nominal","scale":{"domain":["high","low"],"range":["#FF0000","#0000FF"]},"legend":{"orient":"none","legendX":50,"legendY":-14,"direction":"horizontal","title":"Risk","titleOrient":"left"}}},
    "layer":[
    {"data":{"name":"km"},"transform":[{"filter":"datum.p==='B'"}],"mark":{"type":"line","interpolate":"step-after","strokeWidth":0.9}},
    {"data":{"name":"cen"},"transform":[{"filter":"datum.p==='B'"}],"mark":{"type":"point","shape":"M-1,0L1,0M0,-1L0,1","filled":false,"size":12,"strokeWidth":0.7,"opacity":1}},
    {"data":{"name":"pv"},"transform":[{"filter":"datum.p==='B'"}],"mark":{"type":"text","align":"left","baseline":"middle","fontSize":7},"encoding":{"x":{"datum":0.55,"type":"quantitative","scale":{"domain":[-0.92,25.1],"nice":false,"zero":false},"axis":{"values":[0,2,4,6,8,10,12,14,16,18,20,22,24],"labelOverlap":false,"title":"Time(years)"}},"y":{"datum":0.19,"type":"quantitative","scale":{"domain":[-0.05,1.05],"nice":false,"zero":false},"axis":{"values":[0,0.25,0.5,0.75,1],"labelOverlap":false,"format":".2f","title":"Survival probability"}},"color":{"value":"#000000"},"text":{"field":"label"}}}]},
   {"width":142,"height":11.2,"data":{"name":"risk"},"transform":[{"filter":"datum.p==='B'"}],"mark":{"type":"text","fontSize":5.3,"baseline":"middle"},"encoding":{"x":{"field":"t","type":"quantitative","scale":{"domain":[-0.92,25.1],"nice":false,"zero":false},"axis":{"values":[0,2,4,6,8,10,12,14,16,18,20,22,24],"labelOverlap":false,"title":"Time(years)"}},"y":{"field":"r","type":"nominal","scale":{"domain":["high","low"]},"axis":{"title":"Risk","labelOverlap":false,"labelColor":{"condition":{"test":"datum.value==='high'","value":"#FF0000"},"value":"#0000FF"}}},"text":{"field":"n"},"color":{"field":"r","type":"nominal","scale":{"domain":["high","low"],"range":["#FF0000","#0000FF"]},"legend":null}}}]},
  {"title":{"text":"C","anchor":"start","frame":"bounds","fontSize":10,"baseline":"bottom","offset":-19.5,"dx":-2.6},"spacing":9,"resolve":{"scale":{"color":"independent"}},"vconcat":[
   {"title":{"text":"Patients with FEMALE","anchor":"start","frame":"group","fontSize":6.7,"baseline":"bottom","offset":-5.7,"dx":-3},"width":142,"height":66,
    "encoding":{"x":{"field":"t","type":"quantitative","scale":{"domain":[-0.92,25.1],"nice":false,"zero":false},"axis":{"values":[0,2,4,6,8,10,12,14,16,18,20,22,24],"labelOverlap":false,"title":"Time(years)"}},"y":{"field":"s","type":"quantitative","scale":{"domain":[-0.05,1.05],"nice":false,"zero":false},"axis":{"values":[0,0.25,0.5,0.75,1],"labelOverlap":false,"format":".2f","title":"Survival probability"}},"color":{"field":"r","type":"nominal","scale":{"domain":["high","low"],"range":["#FF0000","#0000FF"]},"legend":{"orient":"none","legendX":50,"legendY":-14,"direction":"horizontal","title":"Risk","titleOrient":"left"}}},
    "layer":[
    {"data":{"name":"km"},"transform":[{"filter":"datum.p==='C'"}],"mark":{"type":"line","interpolate":"step-after","strokeWidth":0.9}},
    {"data":{"name":"cen"},"transform":[{"filter":"datum.p==='C'"}],"mark":{"type":"point","shape":"M-1,0L1,0M0,-1L0,1","filled":false,"size":12,"strokeWidth":0.7,"opacity":1}},
    {"data":{"name":"pv"},"transform":[{"filter":"datum.p==='C'"}],"mark":{"type":"text","align":"left","baseline":"middle","fontSize":7},"encoding":{"x":{"datum":0.55,"type":"quantitative","scale":{"domain":[-0.92,25.1],"nice":false,"zero":false},"axis":{"values":[0,2,4,6,8,10,12,14,16,18,20,22,24],"labelOverlap":false,"title":"Time(years)"}},"y":{"datum":0.19,"type":"quantitative","scale":{"domain":[-0.05,1.05],"nice":false,"zero":false},"axis":{"values":[0,0.25,0.5,0.75,1],"labelOverlap":false,"format":".2f","title":"Survival probability"}},"color":{"value":"#000000"},"text":{"field":"label"}}}]},
   {"width":142,"height":11.2,"data":{"name":"risk"},"transform":[{"filter":"datum.p==='C'"}],"mark":{"type":"text","fontSize":5.3,"baseline":"middle"},"encoding":{"x":{"field":"t","type":"quantitative","scale":{"domain":[-0.92,25.1],"nice":false,"zero":false},"axis":{"values":[0,2,4,6,8,10,12,14,16,18,20,22,24],"labelOverlap":false,"title":"Time(years)"}},"y":{"field":"r","type":"nominal","scale":{"domain":["high","low"]},"axis":{"title":"Risk","labelOverlap":false,"labelColor":{"condition":{"test":"datum.value==='high'","value":"#FF0000"},"value":"#0000FF"}}},"text":{"field":"n"},"color":{"field":"r","type":"nominal","scale":{"domain":["high","low"],"range":["#FF0000","#0000FF"]},"legend":null}}}]},
  {"title":{"text":"D","anchor":"start","frame":"bounds","fontSize":10,"baseline":"bottom","offset":-19.5,"dx":-2.6},"spacing":9,"resolve":{"scale":{"color":"independent"}},"vconcat":[
   {"title":{"text":"Patients with MALE","anchor":"start","frame":"group","fontSize":6.7,"baseline":"bottom","offset":-5.7,"dx":-3},"width":154,"height":66,
    "encoding":{"x":{"field":"t","type":"quantitative","scale":{"domain":[-0.29,6.4],"nice":false,"zero":false},"axis":{"values":[0,2,4,6],"labelOverlap":false,"title":"Time(years)"}},"y":{"field":"s","type":"quantitative","scale":{"domain":[-0.05,1.05],"nice":false,"zero":false},"axis":{"values":[0,0.25,0.5,0.75,1],"labelOverlap":false,"format":".2f","title":"Survival probability"}},"color":{"field":"r","type":"nominal","scale":{"domain":["high","low"],"range":["#FF0000","#0000FF"]},"legend":{"orient":"none","legendX":50,"legendY":-14,"direction":"horizontal","title":"Risk","titleOrient":"left"}}},
    "layer":[
    {"data":{"name":"km"},"transform":[{"filter":"datum.p==='D'"}],"mark":{"type":"line","interpolate":"step-after","strokeWidth":0.9}},
    {"data":{"name":"cen"},"transform":[{"filter":"datum.p==='D'"}],"mark":{"type":"point","shape":"M-1,0L1,0M0,-1L0,1","filled":false,"size":12,"strokeWidth":0.7,"opacity":1}},
    {"data":{"name":"pv"},"transform":[{"filter":"datum.p==='D'"}],"mark":{"type":"text","align":"left","baseline":"middle","fontSize":7},"encoding":{"x":{"datum":0.11,"type":"quantitative","scale":{"domain":[-0.29,6.4],"nice":false,"zero":false},"axis":{"values":[0,2,4,6],"labelOverlap":false,"title":"Time(years)"}},"y":{"datum":0.19,"type":"quantitative","scale":{"domain":[-0.05,1.05],"nice":false,"zero":false},"axis":{"values":[0,0.25,0.5,0.75,1],"labelOverlap":false,"format":".2f","title":"Survival probability"}},"color":{"value":"#000000"},"text":{"field":"label"}}}]},
   {"width":154,"height":11.2,"data":{"name":"risk"},"transform":[{"filter":"datum.p==='D'"}],"mark":{"type":"text","fontSize":5.3,"baseline":"middle"},"encoding":{"x":{"field":"t","type":"quantitative","scale":{"domain":[-0.29,6.4],"nice":false,"zero":false},"axis":{"values":[0,2,4,6],"labelOverlap":false,"title":"Time(years)"}},"y":{"field":"r","type":"nominal","scale":{"domain":["high","low"]},"axis":{"title":"Risk","labelOverlap":false,"labelColor":{"condition":{"test":"datum.value==='high'","value":"#FF0000"},"value":"#0000FF"}}},"text":{"field":"n"},"color":{"field":"r","type":"nominal","scale":{"domain":["high","low"],"range":["#FF0000","#0000FF"]},"legend":null}}}]}
 ]},
 {"spacing": 17.2, "align": "none", "resolve": {"scale": {"color": "independent"}}, "hconcat": [
  {"title":{"text":"E","anchor":"start","frame":"bounds","fontSize":10,"baseline":"bottom","offset":-19.5,"dx":-2.6},"spacing":9,"resolve":{"scale":{"color":"independent"}},"vconcat":[
   {"title":{"text":"Patients with T 1−2","anchor":"start","frame":"group","fontSize":6.7,"baseline":"bottom","offset":-5.7,"dx":-3},"width":142,"height":66,
    "encoding":{"x":{"field":"t","type":"quantitative","scale":{"domain":[-0.92,25.1],"nice":false,"zero":false},"axis":{"values":[0,2,4,6,8,10,12,14,16,18,20,22,24],"labelOverlap":false,"title":"Time(years)"}},"y":{"field":"s","type":"quantitative","scale":{"domain":[-0.05,1.05],"nice":false,"zero":false},"axis":{"values":[0,0.25,0.5,0.75,1],"labelOverlap":false,"format":".2f","title":"Survival probability"}},"color":{"field":"r","type":"nominal","scale":{"domain":["high","low"],"range":["#FF0000","#0000FF"]},"legend":{"orient":"none","legendX":50,"legendY":-14,"direction":"horizontal","title":"Risk","titleOrient":"left"}}},
    "layer":[
    {"data":{"name":"km"},"transform":[{"filter":"datum.p==='E'"}],"mark":{"type":"line","interpolate":"step-after","strokeWidth":0.9}},
    {"data":{"name":"cen"},"transform":[{"filter":"datum.p==='E'"}],"mark":{"type":"point","shape":"M-1,0L1,0M0,-1L0,1","filled":false,"size":12,"strokeWidth":0.7,"opacity":1}},
    {"data":{"name":"pv"},"transform":[{"filter":"datum.p==='E'"}],"mark":{"type":"text","align":"left","baseline":"middle","fontSize":7},"encoding":{"x":{"datum":0.55,"type":"quantitative","scale":{"domain":[-0.92,25.1],"nice":false,"zero":false},"axis":{"values":[0,2,4,6,8,10,12,14,16,18,20,22,24],"labelOverlap":false,"title":"Time(years)"}},"y":{"datum":0.19,"type":"quantitative","scale":{"domain":[-0.05,1.05],"nice":false,"zero":false},"axis":{"values":[0,0.25,0.5,0.75,1],"labelOverlap":false,"format":".2f","title":"Survival probability"}},"color":{"value":"#000000"},"text":{"field":"label"}}}]},
   {"width":142,"height":11.2,"data":{"name":"risk"},"transform":[{"filter":"datum.p==='E'"}],"mark":{"type":"text","fontSize":5.3,"baseline":"middle"},"encoding":{"x":{"field":"t","type":"quantitative","scale":{"domain":[-0.92,25.1],"nice":false,"zero":false},"axis":{"values":[0,2,4,6,8,10,12,14,16,18,20,22,24],"labelOverlap":false,"title":"Time(years)"}},"y":{"field":"r","type":"nominal","scale":{"domain":["high","low"]},"axis":{"title":"Risk","labelOverlap":false,"labelColor":{"condition":{"test":"datum.value==='high'","value":"#FF0000"},"value":"#0000FF"}}},"text":{"field":"n"},"color":{"field":"r","type":"nominal","scale":{"domain":["high","low"],"range":["#FF0000","#0000FF"]},"legend":null}}}]},
  {"title":{"text":"F","anchor":"start","frame":"bounds","fontSize":10,"baseline":"bottom","offset":-19.5,"dx":-2.6},"spacing":9,"resolve":{"scale":{"color":"independent"}},"vconcat":[
   {"title":{"text":"Patients with T 3−4","anchor":"start","frame":"group","fontSize":6.7,"baseline":"bottom","offset":-5.7,"dx":-3},"width":142,"height":66,
    "encoding":{"x":{"field":"t","type":"quantitative","scale":{"domain":[-0.74,20.36],"nice":false,"zero":false},"axis":{"values":[0,2,4,6,8,10,12,14,16,18,20],"labelOverlap":false,"title":"Time(years)"}},"y":{"field":"s","type":"quantitative","scale":{"domain":[-0.05,1.05],"nice":false,"zero":false},"axis":{"values":[0,0.25,0.5,0.75,1],"labelOverlap":false,"format":".2f","title":"Survival probability"}},"color":{"field":"r","type":"nominal","scale":{"domain":["high","low"],"range":["#FF0000","#0000FF"]},"legend":{"orient":"none","legendX":50,"legendY":-14,"direction":"horizontal","title":"Risk","titleOrient":"left"}}},
    "layer":[
    {"data":{"name":"km"},"transform":[{"filter":"datum.p==='F'"}],"mark":{"type":"line","interpolate":"step-after","strokeWidth":0.9}},
    {"data":{"name":"cen"},"transform":[{"filter":"datum.p==='F'"}],"mark":{"type":"point","shape":"M-1,0L1,0M0,-1L0,1","filled":false,"size":12,"strokeWidth":0.7,"opacity":1}},
    {"data":{"name":"pv"},"transform":[{"filter":"datum.p==='F'"}],"mark":{"type":"text","align":"left","baseline":"middle","fontSize":7},"encoding":{"x":{"datum":0.45,"type":"quantitative","scale":{"domain":[-0.74,20.36],"nice":false,"zero":false},"axis":{"values":[0,2,4,6,8,10,12,14,16,18,20],"labelOverlap":false,"title":"Time(years)"}},"y":{"datum":0.19,"type":"quantitative","scale":{"domain":[-0.05,1.05],"nice":false,"zero":false},"axis":{"values":[0,0.25,0.5,0.75,1],"labelOverlap":false,"format":".2f","title":"Survival probability"}},"color":{"value":"#000000"},"text":{"field":"label"}}}]},
   {"width":142,"height":11.2,"data":{"name":"risk"},"transform":[{"filter":"datum.p==='F'"}],"mark":{"type":"text","fontSize":5.3,"baseline":"middle"},"encoding":{"x":{"field":"t","type":"quantitative","scale":{"domain":[-0.74,20.36],"nice":false,"zero":false},"axis":{"values":[0,2,4,6,8,10,12,14,16,18,20],"labelOverlap":false,"title":"Time(years)"}},"y":{"field":"r","type":"nominal","scale":{"domain":["high","low"]},"axis":{"title":"Risk","labelOverlap":false,"labelColor":{"condition":{"test":"datum.value==='high'","value":"#FF0000"},"value":"#0000FF"}}},"text":{"field":"n"},"color":{"field":"r","type":"nominal","scale":{"domain":["high","low"],"range":["#FF0000","#0000FF"]},"legend":null}}}]},
  {"title":{"text":"G","anchor":"start","frame":"bounds","fontSize":10,"baseline":"bottom","offset":-19.5,"dx":-2.6},"spacing":9,"resolve":{"scale":{"color":"independent"}},"vconcat":[
   {"title":{"text":"Patients with N0","anchor":"start","frame":"group","fontSize":6.7,"baseline":"bottom","offset":-5.7,"dx":-3},"width":142,"height":66,
    "encoding":{"x":{"field":"t","type":"quantitative","scale":{"domain":[-0.92,25.1],"nice":false,"zero":false},"axis":{"values":[0,2,4,6,8,10,12,14,16,18,20,22,24],"labelOverlap":false,"title":"Time(years)"}},"y":{"field":"s","type":"quantitative","scale":{"domain":[-0.05,1.05],"nice":false,"zero":false},"axis":{"values":[0,0.25,0.5,0.75,1],"labelOverlap":false,"format":".2f","title":"Survival probability"}},"color":{"field":"r","type":"nominal","scale":{"domain":["high","low"],"range":["#FF0000","#0000FF"]},"legend":{"orient":"none","legendX":50,"legendY":-14,"direction":"horizontal","title":"Risk","titleOrient":"left"}}},
    "layer":[
    {"data":{"name":"km"},"transform":[{"filter":"datum.p==='G'"}],"mark":{"type":"line","interpolate":"step-after","strokeWidth":0.9}},
    {"data":{"name":"cen"},"transform":[{"filter":"datum.p==='G'"}],"mark":{"type":"point","shape":"M-1,0L1,0M0,-1L0,1","filled":false,"size":12,"strokeWidth":0.7,"opacity":1}},
    {"data":{"name":"pv"},"transform":[{"filter":"datum.p==='G'"}],"mark":{"type":"text","align":"left","baseline":"middle","fontSize":7},"encoding":{"x":{"datum":0.55,"type":"quantitative","scale":{"domain":[-0.92,25.1],"nice":false,"zero":false},"axis":{"values":[0,2,4,6,8,10,12,14,16,18,20,22,24],"labelOverlap":false,"title":"Time(years)"}},"y":{"datum":0.19,"type":"quantitative","scale":{"domain":[-0.05,1.05],"nice":false,"zero":false},"axis":{"values":[0,0.25,0.5,0.75,1],"labelOverlap":false,"format":".2f","title":"Survival probability"}},"color":{"value":"#000000"},"text":{"field":"label"}}}]},
   {"width":142,"height":11.2,"data":{"name":"risk"},"transform":[{"filter":"datum.p==='G'"}],"mark":{"type":"text","fontSize":5.3,"baseline":"middle"},"encoding":{"x":{"field":"t","type":"quantitative","scale":{"domain":[-0.92,25.1],"nice":false,"zero":false},"axis":{"values":[0,2,4,6,8,10,12,14,16,18,20,22,24],"labelOverlap":false,"title":"Time(years)"}},"y":{"field":"r","type":"nominal","scale":{"domain":["high","low"]},"axis":{"title":"Risk","labelOverlap":false,"labelColor":{"condition":{"test":"datum.value==='high'","value":"#FF0000"},"value":"#0000FF"}}},"text":{"field":"n"},"color":{"field":"r","type":"nominal","scale":{"domain":["high","low"],"range":["#FF0000","#0000FF"]},"legend":null}}}]},
  {"title":{"text":"H","anchor":"start","frame":"bounds","fontSize":10,"baseline":"bottom","offset":-19.5,"dx":-2.6},"spacing":9,"resolve":{"scale":{"color":"independent"}},"vconcat":[
   {"title":{"text":"Patients with N 1−3","anchor":"start","frame":"group","fontSize":6.7,"baseline":"bottom","offset":-5.7,"dx":-3},"width":142,"height":66,
    "encoding":{"x":{"field":"t","type":"quantitative","scale":{"domain":[-0.92,25.1],"nice":false,"zero":false},"axis":{"values":[0,2,4,6,8,10,12,14,16,18,20,22,24],"labelOverlap":false,"title":"Time(years)"}},"y":{"field":"s","type":"quantitative","scale":{"domain":[-0.05,1.05],"nice":false,"zero":false},"axis":{"values":[0,0.25,0.5,0.75,1],"labelOverlap":false,"format":".2f","title":"Survival probability"}},"color":{"field":"r","type":"nominal","scale":{"domain":["high","low"],"range":["#FF0000","#0000FF"]},"legend":{"orient":"none","legendX":50,"legendY":-14,"direction":"horizontal","title":"Risk","titleOrient":"left"}}},
    "layer":[
    {"data":{"name":"km"},"transform":[{"filter":"datum.p==='H'"}],"mark":{"type":"line","interpolate":"step-after","strokeWidth":0.9}},
    {"data":{"name":"cen"},"transform":[{"filter":"datum.p==='H'"}],"mark":{"type":"point","shape":"M-1,0L1,0M0,-1L0,1","filled":false,"size":12,"strokeWidth":0.7,"opacity":1}},
    {"data":{"name":"pv"},"transform":[{"filter":"datum.p==='H'"}],"mark":{"type":"text","align":"left","baseline":"middle","fontSize":7},"encoding":{"x":{"datum":0.55,"type":"quantitative","scale":{"domain":[-0.92,25.1],"nice":false,"zero":false},"axis":{"values":[0,2,4,6,8,10,12,14,16,18,20,22,24],"labelOverlap":false,"title":"Time(years)"}},"y":{"datum":0.19,"type":"quantitative","scale":{"domain":[-0.05,1.05],"nice":false,"zero":false},"axis":{"values":[0,0.25,0.5,0.75,1],"labelOverlap":false,"format":".2f","title":"Survival probability"}},"color":{"value":"#000000"},"text":{"field":"label"}}}]},
   {"width":142,"height":11.2,"data":{"name":"risk"},"transform":[{"filter":"datum.p==='H'"}],"mark":{"type":"text","fontSize":5.3,"baseline":"middle"},"encoding":{"x":{"field":"t","type":"quantitative","scale":{"domain":[-0.92,25.1],"nice":false,"zero":false},"axis":{"values":[0,2,4,6,8,10,12,14,16,18,20,22,24],"labelOverlap":false,"title":"Time(years)"}},"y":{"field":"r","type":"nominal","scale":{"domain":["high","low"]},"axis":{"title":"Risk","labelOverlap":false,"labelColor":{"condition":{"test":"datum.value==='high'","value":"#FF0000"},"value":"#0000FF"}}},"text":{"field":"n"},"color":{"field":"r","type":"nominal","scale":{"domain":["high","low"],"range":["#FF0000","#0000FF"]},"legend":null}}}]}
 ]},
 {"spacing": 17.2, "align": "none", "resolve": {"scale": {"color": "independent"}}, "hconcat": [
  {"title":{"text":"I","anchor":"start","frame":"bounds","fontSize":10,"baseline":"bottom","offset":-19.5,"dx":-2.6},"spacing":9,"resolve":{"scale":{"color":"independent"}},"vconcat":[
   {"title":{"text":"Patients with M0","anchor":"start","frame":"group","fontSize":6.7,"baseline":"bottom","offset":-5.7,"dx":-3},"width":142,"height":66,
    "encoding":{"x":{"field":"t","type":"quantitative","scale":{"domain":[-0.92,25.1],"nice":false,"zero":false},"axis":{"values":[0,2,4,6,8,10,12,14,16,18,20,22,24],"labelOverlap":false,"title":"Time(years)"}},"y":{"field":"s","type":"quantitative","scale":{"domain":[-0.05,1.05],"nice":false,"zero":false},"axis":{"values":[0,0.25,0.5,0.75,1],"labelOverlap":false,"format":".2f","title":"Survival probability"}},"color":{"field":"r","type":"nominal","scale":{"domain":["high","low"],"range":["#FF0000","#0000FF"]},"legend":{"orient":"none","legendX":50,"legendY":-14,"direction":"horizontal","title":"Risk","titleOrient":"left"}}},
    "layer":[
    {"data":{"name":"km"},"transform":[{"filter":"datum.p==='I'"}],"mark":{"type":"line","interpolate":"step-after","strokeWidth":0.9}},
    {"data":{"name":"cen"},"transform":[{"filter":"datum.p==='I'"}],"mark":{"type":"point","shape":"M-1,0L1,0M0,-1L0,1","filled":false,"size":12,"strokeWidth":0.7,"opacity":1}},
    {"data":{"name":"pv"},"transform":[{"filter":"datum.p==='I'"}],"mark":{"type":"text","align":"left","baseline":"middle","fontSize":7},"encoding":{"x":{"datum":0.55,"type":"quantitative","scale":{"domain":[-0.92,25.1],"nice":false,"zero":false},"axis":{"values":[0,2,4,6,8,10,12,14,16,18,20,22,24],"labelOverlap":false,"title":"Time(years)"}},"y":{"datum":0.19,"type":"quantitative","scale":{"domain":[-0.05,1.05],"nice":false,"zero":false},"axis":{"values":[0,0.25,0.5,0.75,1],"labelOverlap":false,"format":".2f","title":"Survival probability"}},"color":{"value":"#000000"},"text":{"field":"label"}}}]},
   {"width":142,"height":11.2,"data":{"name":"risk"},"transform":[{"filter":"datum.p==='I'"}],"mark":{"type":"text","fontSize":5.3,"baseline":"middle"},"encoding":{"x":{"field":"t","type":"quantitative","scale":{"domain":[-0.92,25.1],"nice":false,"zero":false},"axis":{"values":[0,2,4,6,8,10,12,14,16,18,20,22,24],"labelOverlap":false,"title":"Time(years)"}},"y":{"field":"r","type":"nominal","scale":{"domain":["high","low"]},"axis":{"title":"Risk","labelOverlap":false,"labelColor":{"condition":{"test":"datum.value==='high'","value":"#FF0000"},"value":"#0000FF"}}},"text":{"field":"n"},"color":{"field":"r","type":"nominal","scale":{"domain":["high","low"],"range":["#FF0000","#0000FF"]},"legend":null}}}]},
  {"title":{"text":"J","anchor":"start","frame":"bounds","fontSize":10,"baseline":"bottom","offset":-19.5,"dx":-2.6},"spacing":9,"resolve":{"scale":{"color":"independent"}},"vconcat":[
   {"title":{"text":"Patients with M1","anchor":"start","frame":"group","fontSize":6.7,"baseline":"bottom","offset":-5.7,"dx":-3},"width":142,"height":66,
    "encoding":{"x":{"field":"t","type":"quantitative","scale":{"domain":[-0.44,10.0],"nice":false,"zero":false},"axis":{"values":[0,2,4,6,8,10],"labelOverlap":false,"title":"Time(years)"}},"y":{"field":"s","type":"quantitative","scale":{"domain":[-0.05,1.05],"nice":false,"zero":false},"axis":{"values":[0,0.25,0.5,0.75,1],"labelOverlap":false,"format":".2f","title":"Survival probability"}},"color":{"field":"r","type":"nominal","scale":{"domain":["high","low"],"range":["#FF0000","#0000FF"]},"legend":{"orient":"none","legendX":50,"legendY":-14,"direction":"horizontal","title":"Risk","titleOrient":"left"}}},
    "layer":[
    {"data":{"name":"km"},"transform":[{"filter":"datum.p==='J'"}],"mark":{"type":"line","interpolate":"step-after","strokeWidth":0.9}},
    {"data":{"name":"cen"},"transform":[{"filter":"datum.p==='J'"}],"mark":{"type":"point","shape":"M-1,0L1,0M0,-1L0,1","filled":false,"size":12,"strokeWidth":0.7,"opacity":1}},
    {"data":{"name":"pv"},"transform":[{"filter":"datum.p==='J'"}],"mark":{"type":"text","align":"left","baseline":"middle","fontSize":7},"encoding":{"x":{"datum":0.24,"type":"quantitative","scale":{"domain":[-0.44,10.0],"nice":false,"zero":false},"axis":{"values":[0,2,4,6,8,10],"labelOverlap":false,"title":"Time(years)"}},"y":{"datum":0.22,"type":"quantitative","scale":{"domain":[-0.05,1.05],"nice":false,"zero":false},"axis":{"values":[0,0.25,0.5,0.75,1],"labelOverlap":false,"format":".2f","title":"Survival probability"}},"color":{"value":"#000000"},"text":{"field":"label"}}}]},
   {"width":142,"height":11.2,"data":{"name":"risk"},"transform":[{"filter":"datum.p==='J'"}],"mark":{"type":"text","fontSize":5.3,"baseline":"middle"},"encoding":{"x":{"field":"t","type":"quantitative","scale":{"domain":[-0.44,10.0],"nice":false,"zero":false},"axis":{"values":[0,2,4,6,8,10],"labelOverlap":false,"title":"Time(years)"}},"y":{"field":"r","type":"nominal","scale":{"domain":["high","low"]},"axis":{"title":"Risk","labelOverlap":false,"labelColor":{"condition":{"test":"datum.value==='high'","value":"#FF0000"},"value":"#0000FF"}}},"text":{"field":"n"},"color":{"field":"r","type":"nominal","scale":{"domain":["high","low"],"range":["#FF0000","#0000FF"]},"legend":null}}}]},
  {"title":{"text":"K","anchor":"start","frame":"bounds","fontSize":10,"baseline":"bottom","offset":-19.5,"dx":-2.6},"spacing":9,"resolve":{"scale":{"color":"independent"}},"vconcat":[
   {"title":{"text":"Patients with Stage I−II","anchor":"start","frame":"group","fontSize":6.7,"baseline":"bottom","offset":-5.7,"dx":-3},"width":142,"height":66,
    "encoding":{"x":{"field":"t","type":"quantitative","scale":{"domain":[-0.92,25.1],"nice":false,"zero":false},"axis":{"values":[0,2,4,6,8,10,12,14,16,18,20,22,24],"labelOverlap":false,"title":"Time(years)"}},"y":{"field":"s","type":"quantitative","scale":{"domain":[-0.05,1.05],"nice":false,"zero":false},"axis":{"values":[0,0.25,0.5,0.75,1],"labelOverlap":false,"format":".2f","title":"Survival probability"}},"color":{"field":"r","type":"nominal","scale":{"domain":["high","low"],"range":["#FF0000","#0000FF"]},"legend":{"orient":"none","legendX":50,"legendY":-14,"direction":"horizontal","title":"Risk","titleOrient":"left"}}},
    "layer":[
    {"data":{"name":"km"},"transform":[{"filter":"datum.p==='K'"}],"mark":{"type":"line","interpolate":"step-after","strokeWidth":0.9}},
    {"data":{"name":"cen"},"transform":[{"filter":"datum.p==='K'"}],"mark":{"type":"point","shape":"M-1,0L1,0M0,-1L0,1","filled":false,"size":12,"strokeWidth":0.7,"opacity":1}},
    {"data":{"name":"pv"},"transform":[{"filter":"datum.p==='K'"}],"mark":{"type":"text","align":"left","baseline":"middle","fontSize":7},"encoding":{"x":{"datum":0.55,"type":"quantitative","scale":{"domain":[-0.92,25.1],"nice":false,"zero":false},"axis":{"values":[0,2,4,6,8,10,12,14,16,18,20,22,24],"labelOverlap":false,"title":"Time(years)"}},"y":{"datum":0.19,"type":"quantitative","scale":{"domain":[-0.05,1.05],"nice":false,"zero":false},"axis":{"values":[0,0.25,0.5,0.75,1],"labelOverlap":false,"format":".2f","title":"Survival probability"}},"color":{"value":"#000000"},"text":{"field":"label"}}}]},
   {"width":142,"height":11.2,"data":{"name":"risk"},"transform":[{"filter":"datum.p==='K'"}],"mark":{"type":"text","fontSize":5.3,"baseline":"middle"},"encoding":{"x":{"field":"t","type":"quantitative","scale":{"domain":[-0.92,25.1],"nice":false,"zero":false},"axis":{"values":[0,2,4,6,8,10,12,14,16,18,20,22,24],"labelOverlap":false,"title":"Time(years)"}},"y":{"field":"r","type":"nominal","scale":{"domain":["high","low"]},"axis":{"title":"Risk","labelOverlap":false,"labelColor":{"condition":{"test":"datum.value==='high'","value":"#FF0000"},"value":"#0000FF"}}},"text":{"field":"n"},"color":{"field":"r","type":"nominal","scale":{"domain":["high","low"],"range":["#FF0000","#0000FF"]},"legend":null}}}]},
  {"title":{"text":"L","anchor":"start","frame":"bounds","fontSize":10,"baseline":"bottom","offset":-19.5,"dx":-2.6},"spacing":9,"resolve":{"scale":{"color":"independent"}},"vconcat":[
   {"title":{"text":"Patients with Stage III−IV","anchor":"start","frame":"group","fontSize":6.7,"baseline":"bottom","offset":-5.7,"dx":-3},"width":142,"height":66,
    "encoding":{"x":{"field":"t","type":"quantitative","scale":{"domain":[-0.74,20.36],"nice":false,"zero":false},"axis":{"values":[0,2,4,6,8,10,12,14,16,18,20],"labelOverlap":false,"title":"Time(years)"}},"y":{"field":"s","type":"quantitative","scale":{"domain":[-0.05,1.05],"nice":false,"zero":false},"axis":{"values":[0,0.25,0.5,0.75,1],"labelOverlap":false,"format":".2f","title":"Survival probability"}},"color":{"field":"r","type":"nominal","scale":{"domain":["high","low"],"range":["#FF0000","#0000FF"]},"legend":{"orient":"none","legendX":50,"legendY":-14,"direction":"horizontal","title":"Risk","titleOrient":"left"}}},
    "layer":[
    {"data":{"name":"km"},"transform":[{"filter":"datum.p==='L'"}],"mark":{"type":"line","interpolate":"step-after","strokeWidth":0.9}},
    {"data":{"name":"cen"},"transform":[{"filter":"datum.p==='L'"}],"mark":{"type":"point","shape":"M-1,0L1,0M0,-1L0,1","filled":false,"size":12,"strokeWidth":0.7,"opacity":1}},
    {"data":{"name":"pv"},"transform":[{"filter":"datum.p==='L'"}],"mark":{"type":"text","align":"left","baseline":"middle","fontSize":7},"encoding":{"x":{"datum":0.45,"type":"quantitative","scale":{"domain":[-0.74,20.36],"nice":false,"zero":false},"axis":{"values":[0,2,4,6,8,10,12,14,16,18,20],"labelOverlap":false,"title":"Time(years)"}},"y":{"datum":0.19,"type":"quantitative","scale":{"domain":[-0.05,1.05],"nice":false,"zero":false},"axis":{"values":[0,0.25,0.5,0.75,1],"labelOverlap":false,"format":".2f","title":"Survival probability"}},"color":{"value":"#000000"},"text":{"field":"label"}}}]},
   {"width":142,"height":11.2,"data":{"name":"risk"},"transform":[{"filter":"datum.p==='L'"}],"mark":{"type":"text","fontSize":5.3,"baseline":"middle"},"encoding":{"x":{"field":"t","type":"quantitative","scale":{"domain":[-0.74,20.36],"nice":false,"zero":false},"axis":{"values":[0,2,4,6,8,10,12,14,16,18,20],"labelOverlap":false,"title":"Time(years)"}},"y":{"field":"r","type":"nominal","scale":{"domain":["high","low"]},"axis":{"title":"Risk","labelOverlap":false,"labelColor":{"condition":{"test":"datum.value==='high'","value":"#FF0000"},"value":"#0000FF"}}},"text":{"field":"n"},"color":{"field":"r","type":"nominal","scale":{"domain":["high","low"],"range":["#FF0000","#0000FF"]},"legend":null}}}]}
 ]}
]
}
